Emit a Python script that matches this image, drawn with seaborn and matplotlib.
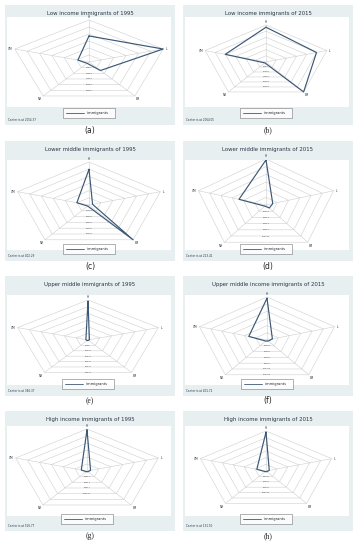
import numpy as np
import pandas as pd
import matplotlib
matplotlib.use("Agg")
import matplotlib.pyplot as plt
import seaborn as sns

# axes of every radar, clockwise from the top
spokes = ["H", "L", "LM", "NR", "UM"]

titles = [
    "Low income immigrants of 1995", "Low income immigrants of 2015",
    "Lower middle immigrants of 1995", "Lower middle immigrants of 2015",
    "Upper middle immigrants of 1995", "Upper middle income immigrants of 2015",
    "High income immigrants of 1995", "High income immigrants of 2015",
]
panel_tags = ["(a)", "(b)", "(c)", "(d)", "(e)", "(f)", "(g)", "(h)"]

# value at the centre of each radar and spacing between rings
centers = [2054.37, 2064.05, 402.29, 213.41, 346.37, 401.72, 516.77, 131.50]
ring_steps = [4000, 4000, 10000, 20000, 5000, 20000, 30000, 30000]
n_tick_labels = [5, 5, 5, 5, 6, 6, 4, 4]

# immigrants per group (H, L, LM, NR, UM)
imm_a = [16930, 26050, 8050, 3010, 5650]
imm_b = [24620, 21980, 26060, 2780, 18140]
imm_c = [50200, 3400, 60400, 2200, 10600]
imm_d = [117800, 12200, 9800, 3800, 48200]
imm_e = [29450, 950, 650, 950, 1250]
imm_f = [116800, 10000, 4000, 4000, 32800]
imm_g = [176900, 9500, 4100, 4100, 14900]
imm_h = [174700, 9100, 3700, 3700, 25300]
immigrants = [imm_a, imm_b, imm_c, imm_d, imm_e, imm_f, imm_g, imm_h]

N_RINGS = 6

# layout in pixels of the 355x550 figure
W, H = 355, 550
box_left = [5, 183]
box_top = [5, 141, 276, 411]
BW, BH = 170, 120
cx_list = [89, 266, 89, 266, 88, 267, 87, 266]
cy_rows = [62, 205, 340, 471]
rx_list = [78, 64, 75, 71, 74, 71, 75, 69]
ry_list = [42, 37, 43, 46, 40, 43, 42, 40]
tag_fonts = ["DejaVu Sans", "Liberation Serif", "DejaVu Sans", "DejaVu Sans",
             "Liberation Serif", "DejaVu Sans", "Liberation Serif", "Liberation Serif"]

sns.set_theme(style="white")
plt.rcParams['font.family'] = ['DejaVu Sans']

fig = plt.figure(figsize=(W / 100, H / 100), dpi=100)
fig.patch.set_facecolor("white")

theta = np.deg2rad(90 - 72 * np.arange(5))
grid_col = "#cfcfcf"
line_col = "#3d5875"
text_col = "#2a3645"

for i in range(8):
    row, col = i // 2, i % 2
    bl, bt = box_left[col], box_top[row]
    cx, cy = cx_list[i], cy_rows[row]
    rx, ry = rx_list[i], ry_list[i]

    bg = fig.add_axes([bl / W, 1 - (bt + BH) / H, BW / W, BH / H])
    bg.set_facecolor("#e8eff1")
    bg.set_xticks([]); bg.set_yticks([])
    for s in bg.spines.values():
        s.set_visible(False)

    left, right = bl + 2, bl + 166
    top, bottom = cy - 45, cy + 45
    ax = fig.add_axes([left / W, 1 - bottom / H, (right - left) / W, (bottom - top) / H])
    ax.set_facecolor("white")
    ax.set_xlim((left - cx) / rx, (right - cx) / rx)
    ax.set_ylim((cy - bottom) / ry, (cy - top) / ry)
    ax.set_xticks([]); ax.set_yticks([])
    for s in ax.spines.values():
        s.set_visible(False)

    # rings and spokes
    ct = np.append(np.cos(theta), np.cos(theta[0]))
    st = np.append(np.sin(theta), np.sin(theta[0]))
    for k in range(1, N_RINGS + 1):
        r = k / N_RINGS
        ax.plot(r * ct, r * st, color=grid_col, lw=0.4, zorder=1)
    for t in theta:
        ax.plot([0, np.cos(t)], [0, np.sin(t)], color=grid_col, lw=0.4, zorder=1)

    # data polygon
    c, step = centers[i], ring_steps[i]
    vals = np.array(immigrants[i], dtype=float)
    rad = (vals - c) / (N_RINGS * step)
    df = pd.DataFrame({
        "x": np.append(rad * np.cos(theta), rad[0] * np.cos(theta[0])),
        "y": np.append(rad * np.sin(theta), rad[0] * np.sin(theta[0])),
    })
    sns.lineplot(data=df, x="x", y="y", sort=False, estimator=None, ax=ax,
                 color=line_col, lw=0.85, label="immigrants", zorder=3)
    ax.set_xlabel(""); ax.set_ylabel("")
    handles, labels = ax.get_legend_handles_labels()
    if ax.get_legend() is not None:
        ax.get_legend().remove()

    # spoke names
    offs = {"H": (0, 0.5, "center", "bottom"), "L": (1.6, 0, "left", "center"),
            "LM": (1.0, -1.0, "left", "top"), "NR": (-1.0, -1.0, "right", "top"),
            "UM": (-1.6, 0, "right", "center")}
    for name, t in zip(spokes, theta):
        dx, dy, ha, va = offs[name]
        ax.annotate(name, (np.cos(t), np.sin(t)), xytext=(dx, dy), textcoords="offset points",
                    ha=ha, va=va, fontsize=2.2, color=text_col, annotation_clip=False)

    # ring values along the downward line
    for k in range(1, n_tick_labels[i] + 1):
        ax.text(0, -k / N_RINGS * np.cos(np.deg2rad(36)), f"{c + k * step:.0f}",
                fontsize=1.6, ha="center", va="center", color="#555555", zorder=2)

    fig.text((bl + 85) / W, 1 - (bt + 8.5) / H, titles[i], fontsize=3.9,
             ha="center", va="center", color=text_col)
    fig.text((bl + 3) / W, 1 - (bt + 115) / H, f"Center is at {c:.2f}", fontsize=2.0,
             ha="left", va="center", color=text_col)
    leg = ax.legend(handles, labels, loc="center",
                    bbox_to_anchor=(cx / W, 1 - (bt + 108) / H), bbox_transform=fig.transFigure,
                    fontsize=2.6, frameon=True, fancybox=False, handlelength=5.0,
                    handletextpad=0.8, borderpad=0.75, borderaxespad=0)
    leg.get_frame().set_edgecolor("#555555")
    leg.get_frame().set_linewidth(0.4)
    leg.get_frame().set_facecolor("white")
    for ln in leg.get_lines():
        ln.set_linewidth(0.6)
    for txt in leg.get_texts():
        txt.set_text(txt.get_text() + "    ")

    fig.text((bl + 85) / W, 1 - (bt + 125) / H, panel_tags[i], fontsize=5.5,
             ha="center", va="center", color="#222222", family=tag_fonts[i])

fig.savefig("out.png", dpi=100)
